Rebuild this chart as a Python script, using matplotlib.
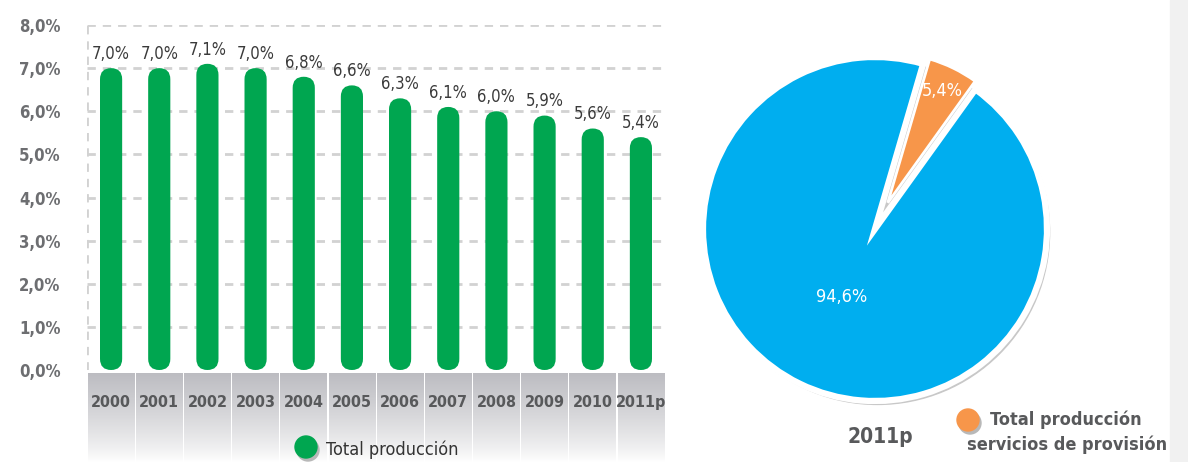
import numpy as np
import matplotlib
matplotlib.use("Agg")
import matplotlib.pyplot as plt
from matplotlib.patches import FancyBboxPatch, Circle, Rectangle

plt.rcParams['font.family'] = ['DejaVu Sans']
plt.rcParams['font.stretch'] = 'condensed'

# data
years = ['2000', '2001', '2002', '2003', '2004', '2005', '2006', '2007', '2008', '2009', '2010', '2011p']
share = [7.0, 7.0, 7.1, 7.0, 6.8, 6.6, 6.3, 6.1, 6.0, 5.9, 5.6, 5.4]
yticks = [0, 1, 2, 3, 4, 5, 6, 7, 8]
pie_values = [5.4, 94.6]

GREEN = '#00a650'
BLUE = '#00aeef'
ORANGE = '#f7964a'
GRID = '#d2d2d2'
TXT = '#58595b'

W, H = 1188, 462
fig = plt.figure(figsize=(W / 100, H / 100), dpi=100)
fig.patch.set_facecolor('white')

def fx(px):
    return px / W

def fy(py):
    return 1 - py / H

def pct(v):
    return f'{v:.1f}%'.replace('.', ',')

# grey strip on the right edge
fig.patches.append(Rectangle((fx(1170), 0), fx(18), 1, transform=fig.transFigure,
                             color='#f1f1f1', zorder=0))

# ---- bar chart ----
ax = fig.add_axes([fx(87), fy(370), fx(665 - 87), fy(25) - fy(370)])
n = len(years)
x = np.arange(n)
ax.set_xlim(-0.5, n - 0.5)
ax.set_ylim(0, 8)
for s in ax.spines.values():
    s.set_visible(False)
ax.set_xticks([])
ax.set_yticks(yticks)
ax.set_yticklabels([pct(v) for v in yticks], fontsize=12, fontweight='bold', color='#6d6e71')
ax.tick_params(axis='y', length=0, pad=19)
for v in yticks[1:]:
    ax.axhline(v, color=GRID, lw=2, ls=(0, (3, 2.5)), zorder=0)
ax.axvline(-0.5, color=GRID, lw=2, ls=(0, (3, 2.5)), zorder=0)

bw = 0.46
px_x = (665 - 87) / n
px_y = (370 - 25) / 8
for xi, v in zip(x, share):
    p = FancyBboxPatch((xi - bw / 2, 0), bw, v,
                       boxstyle=f'round,pad=0,rounding_size={bw / 2}',
                       mutation_aspect=px_x / px_y,
                       fc=GREEN, ec='none', zorder=3)
    ax.add_patch(p)
    ax.text(xi, v + 0.12, pct(v), ha='center', va='bottom',
            fontsize=12, color='#3a3a3a', zorder=4)

# category cells with grey gradient (grey at top fading to white)
cax = fig.add_axes([fx(87), 0, fx(665 - 87), fy(373)])
cax.set_xlim(-0.5, n - 0.5)
cax.set_ylim(0, 1)
cax.axis('off')
t = np.linspace(0, 1, 100)
top = np.array([0.74, 0.74, 0.76])
bot = np.array([1.0, 1.0, 1.0])
grad = (bot[None, :] * (1 - t[:, None] ** 0.8) + top[None, :] * t[:, None] ** 0.8)[:, None, :]
for xi, lab in zip(x, years):
    cax.imshow(grad, extent=(xi - 0.485, xi + 0.485, 0, 1), aspect='auto',
               origin='lower', zorder=1)
    cax.text(xi, 0.67, lab, ha='center', va='center', fontsize=11.5,
             fontweight='bold', color=TXT, zorder=3)

# overlay axes in pixel coords for legends
lax = fig.add_axes([0, 0, 1, 1], facecolor='none')
lax.set_xlim(0, W)
lax.set_ylim(H, 0)
lax.axis('off')
lax.add_patch(Circle((308, 450), 11, color='#b8b8b8', zorder=1))
lax.add_patch(Circle((306, 447), 11, color=GREEN, zorder=2))
lax.text(326, 450, 'Total producción', fontsize=13, color='#333333', va='center', ha='left')

lax.add_patch(Circle((970, 423), 11, color='#b8b8b8', zorder=1))
lax.add_patch(Circle((968, 420), 11, color=ORANGE, zorder=2))
lax.text(1066, 420, 'Total producción', fontsize=13, fontweight='bold', color=TXT,
         va='center', ha='center')
lax.text(1067, 445, 'servicios de provisión', fontsize=13, fontweight='bold', color=TXT,
         va='center', ha='center')
lax.text(880, 437, '2011p', fontsize=15, fontweight='bold', color=TXT, va='center', ha='center')

# ---- pie chart ----
R = 172
cx, cy = 875, 229
half = 1.2 * R
pax = fig.add_axes([fx(cx - half), fy(cy + half), fx(2 * half), fy(cy - half) - fy(cy + half)],
                   facecolor='none')
pax.add_patch(Circle((0.015, -0.02), 1.0, color='#c8c8c8', zorder=0))
wedges, _ = pax.pie(pie_values, colors=[ORANGE, BLUE], startangle=54.3,
                    explode=[0.17, 0.0], radius=1,
                    wedgeprops=dict(edgecolor='white', linewidth=4.5))
wedges[0].set_radius(0.87)
wedges[0].set_linewidth(2)
pax.set_xlim(-1.2, 1.2)
pax.set_ylim(-1.2, 1.2)
pax.set_aspect('equal')

dists = [0.89, 0.44]
for w, v, d in zip(wedges, pie_values, dists):
    a = np.deg2rad((w.theta1 + w.theta2) / 2)
    pax.text(d * np.cos(a), d * np.sin(a), pct(v),
             ha='center', va='center', color='white', fontsize=13)

fig.savefig('out.png', dpi=100)
